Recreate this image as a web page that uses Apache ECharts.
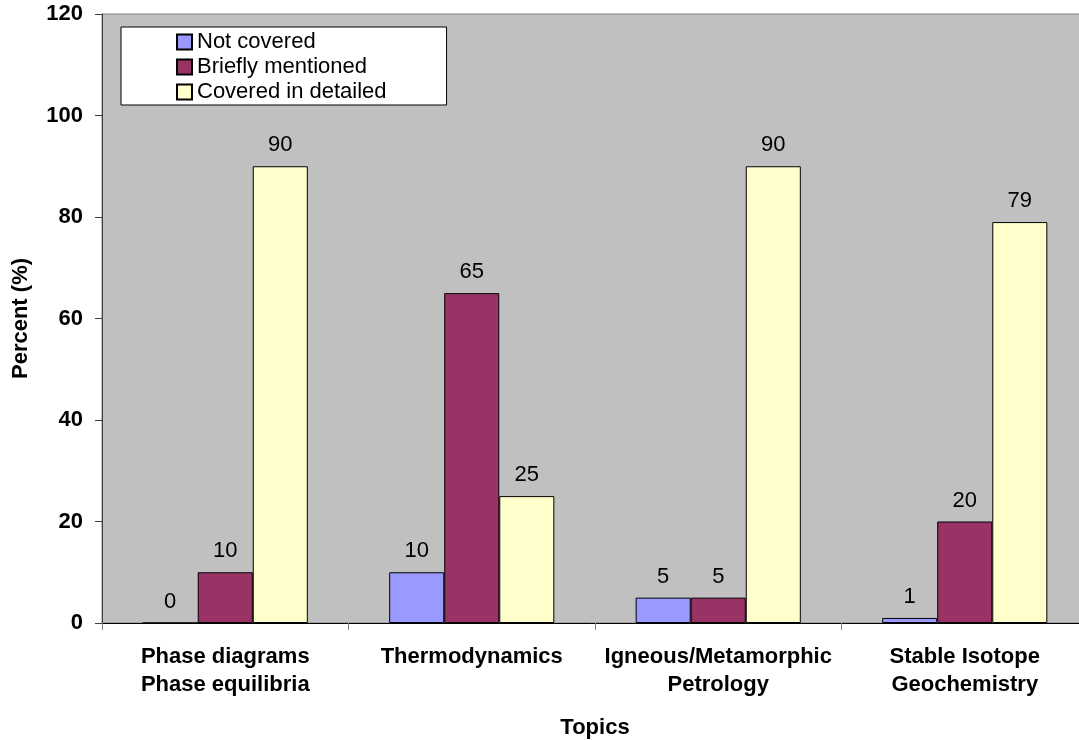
<!DOCTYPE html>
<html>
<head>
<meta charset="utf-8">
<script src="https://cdn.jsdelivr.net/npm/echarts@6/dist/echarts.min.js"></script>
<style>
  html, body { margin: 0; padding: 0; background: #fff; }
  #chart { width: 1079px; height: 740px; }
</style>
</head>
<body>
<div id="chart"></div>
<script>
// Survey results: how each topic was covered (percent of respondents)
const topics = ['Phase diagrams\nPhase equilibria', 'Thermodynamics', 'Igneous/Metamorphic\nPetrology', 'Stable Isotope\nGeochemistry'];
const notCovered = [0, 10, 5, 1];
const brieflyMentioned = [10, 65, 5, 20];
const coveredDetailed = [90, 25, 90, 79];
const seriesNames = ['Not covered', 'Briefly mentioned', 'Covered in detailed'];
const seriesColors = ['#9999FF', '#993366', '#FFFFCC'];

const font = 'Arial, "Liberation Sans", sans-serif';
const chart = echarts.init(document.getElementById('chart'), null, { renderer: 'canvas' });

function barSeries(name, data, color) {
  return {
    name: name,
    type: 'bar',
    data: data,
    barGap: '0%',
    barCategoryGap: '33%',
    itemStyle: { color: color, borderColor: '#000', borderWidth: 1 },
    label: {
      show: true,
      position: 'top',
      distance: 10,
      color: '#000',
      fontFamily: font,
      fontSize: 22
    }
  };
}

chart.setOption({
  animation: false,
  backgroundColor: '#fff',
  grid: {
    left: 102,
    top: 14,
    right: -9,
    bottom: 117,
    containLabel: false,
    outerBoundsMode: 'none',
    show: true,
    backgroundColor: '#C0C0C0',
    borderColor: '#808080',
    borderWidth: 1
  },
  legend: {
    orient: 'vertical',
    left: 121,
    top: 27,
    icon: 'rect',
    itemWidth: 15,
    itemHeight: 15,
    itemGap: 3,
    padding: [4, 60, 2, 55],
    backgroundColor: '#fff',
    borderColor: '#000',
    borderWidth: 1,
    textStyle: { color: '#000', fontFamily: font, fontSize: 22 },
    data: seriesNames
  },
  xAxis: {
    type: 'category',
    data: topics,
    name: 'Topics',
    nameLocation: 'middle',
    nameGap: 94,
    nameTextStyle: { color: '#000', fontFamily: font, fontSize: 22, fontWeight: 'bold' },
    axisLine: { lineStyle: { color: '#000' } },
    axisTick: { show: true, length: 7, lineStyle: { color: '#808080' } },
    axisLabel: {
      color: '#000',
      fontFamily: font,
      fontSize: 22,
      fontWeight: 'bold',
      lineHeight: 28,
      margin: 20,
      interval: 0
    }
  },
  yAxis: {
    type: 'value',
    min: 0,
    max: 120,
    interval: 20,
    name: 'Percent (%)',
    nameLocation: 'middle',
    nameGap: 70,
    nameTextStyle: { color: '#000', fontFamily: font, fontSize: 22, fontWeight: 'bold' },
    axisLine: { show: true, lineStyle: { color: '#404040' } },
    axisTick: { show: true, length: 7, lineStyle: { color: '#404040' } },
    splitLine: { show: false },
    axisLabel: {
      color: '#000',
      fontFamily: font,
      fontSize: 22,
      fontWeight: 'bold',
      margin: 19
    }
  },
  series: [
    barSeries(seriesNames[0], notCovered, seriesColors[0]),
    barSeries(seriesNames[1], brieflyMentioned, seriesColors[1]),
    barSeries(seriesNames[2], coveredDetailed, seriesColors[2])
  ]
});
</script>
</body>
</html>
